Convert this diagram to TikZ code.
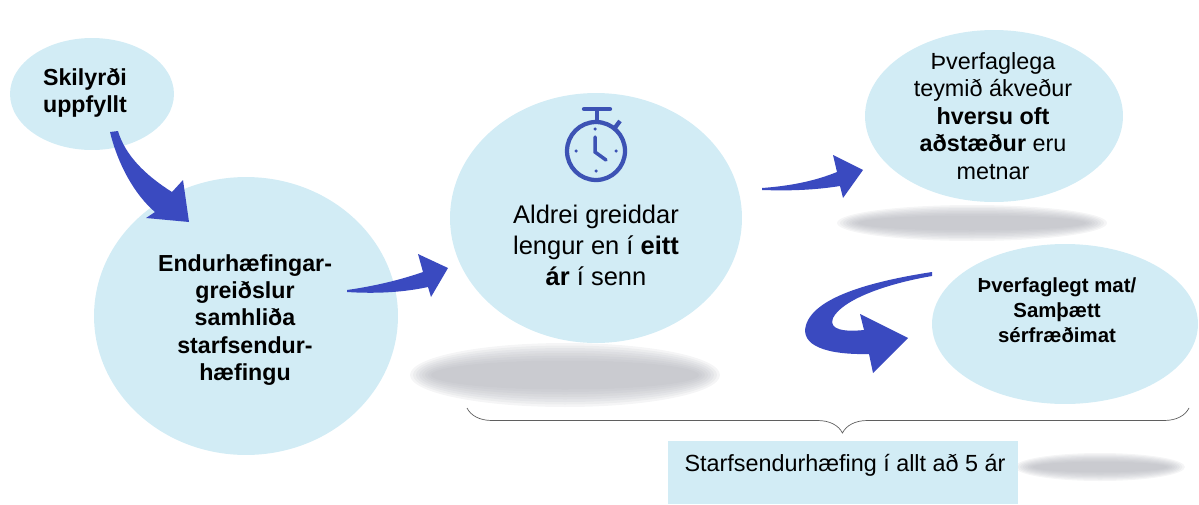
\documentclass[tikz,border=0pt]{standalone}
\usepackage{fontspec}
\setmainfont{Liberation Sans}
\usetikzlibrary{shapes.geometric,decorations.pathreplacing}

\definecolor{bubbleblue}{RGB}{210,236,245}
\definecolor{arrowblue}{RGB}{58,74,192}
\definecolor{clockblue}{RGB}{60,82,180}
\definecolor{shadowgray}{RGB}{172,174,182}
\definecolor{bracegray}{RGB}{95,95,95}

% soft gray shadow: centre, x radius, y radius, shrink x, shrink y
\newcommand{\blurblob}[5]{%
  \foreach \d in {0,...,7}{%
    \fill[shadowgray, fill opacity=0.12] #1 ellipse [x radius={#2-\d*#4}, y radius={#3-\d*#5}];}}

\tikzset{
  bubble/.style={ellipse, fill=bubbleblue, inner sep=0pt},
  spanbox/.style={rectangle, fill=bubbleblue, inner sep=0pt},
  blockarrow/.style={fill=arrowblue},
  clockline/.style={draw=clockblue, line width=0.085cm},
  boldtxt/.style={align=center, font=\bfseries\fontsize{13.2}{15.6}\selectfont},
  boldsmall/.style={align=center, font=\bfseries\fontsize{11.6}{14.2}\selectfont},
  plaintxt/.style={align=center, font=\fontsize{13.3}{15.6}\selectfont},
  plainbig/.style={align=center, font=\fontsize{14.5}{17.6}\selectfont}
}

\begin{document}
\begin{tikzpicture}[x=0.02cm,y=-0.02cm]
  \useasboundingbox (0,0) rectangle (1199,504);
  % shadows
  \blurblob{(565,375)}{3.1cm}{0.64cm}{0.06cm}{0.05cm}
  \blurblob{(972,223)}{2.7cm}{0.36cm}{0.06cm}{0.03cm}
  \blurblob{(1100,467)}{1.7cm}{0.28cm}{0.05cm}{0.025cm}
  % bubbles
  \node[bubble, minimum width=3.28cm, minimum height=2.24cm] (skil) at (92,94) {};
  \node[bubble, minimum width=6.08cm, minimum height=5.56cm] (endur) at (246,316) {};
  \node[bubble, minimum width=5.84cm, minimum height=5cm] (aldrei) at (596,218) {};
  \node[bubble, minimum width=5.16cm, minimum height=3.44cm] (teymi) at (994,116) {};
  \node[bubble, minimum width=5.32cm, minimum height=3.2cm] (mat) at (1065,324) {};
  \node[spanbox, minimum width=7cm, minimum height=1.26cm] (spanbox) at (843,472.5) {};
  %% texts
  \node[boldtxt] (skiltxt) at (85,93) {Skilyrði\\uppfyllt};
  \node[boldtxt] (endurtxt) at (245,320) {Endurhæfingar-\\greiðslur\\samhliða\\starfsendur-\\hæfingu};
  \node[plainbig] (aldreitxt) at (596,245) {Aldrei greiddar\\lengur en í \textbf{eitt}\\\textbf{ár} í senn};
  \node[plaintxt] (teymitxt) at (993,116) {Þverfaglega\\teymið ákveður\\\textbf{hversu oft}\\\textbf{aðstæður} eru\\metnar};
  \node[boldsmall] (mattxt) at (1057,310) {Þverfaglegt mat/\\Samþætt\\sérfræðimat};
  \node[plaintxt] (spantxt) at (845,465) {Starfsendurhæfing í allt að 5 ár};
  %% stopwatch
  \draw[clockline] (596,151) circle [radius=0.58cm];
  \draw[clockline, line cap=round] (584,109) -- (610,109);
  \draw[clockline] (597,109) -- (597,122);
  \draw[clockline] (614,129) -- (620,121);
  \draw[clockline, line width=0.07cm, line cap=round] (595,137) -- (595,152) -- (606,160);
  \foreach \p in {(595,129),(576,151),(616,151),(596,171)}
    \fill[clockblue] \p circle [radius=0.035cm];
  %% arrows
  \fill[blockarrow] (110,132) .. controls (118,165) and (135,195) .. (155,212) -- (146,218) -- (189,222)
    -- (183,180) -- (172,192) .. controls (145,175) and (125,155) .. (118,131) -- cycle;
  \fill[blockarrow] (347,290) .. controls (375,286) and (400,280) .. (423,272) -- (418,254) -- (448,268)
    -- (431,297) -- (428,287) .. controls (405,292) and (378,294) .. (347,292) -- cycle;
  \fill[blockarrow] (762,188) .. controls (790,186) and (815,181) .. (837,172) -- (833,155) -- (863,170)
    -- (843,198) -- (840,186) .. controls (815,190) and (790,191) .. (762,190) -- cycle;
  \fill[blockarrow] (932,272) .. controls (880,280) and (815,295) .. (806,325)
    .. controls (800,345) and (825,355) .. (869,354) -- (873,373) -- (908,338) -- (860,314) -- (864,330)
    .. controls (845,332) and (828,330) .. (833,318) .. controls (842,300) and (885,284) .. (932,276) -- cycle;
  %% brace
  \draw[bracegray, decorate, decoration={brace, mirror, amplitude=0.5cm, aspect=0.52}] (467,408) -- (1189,408);
\end{tikzpicture}
\end{document}
